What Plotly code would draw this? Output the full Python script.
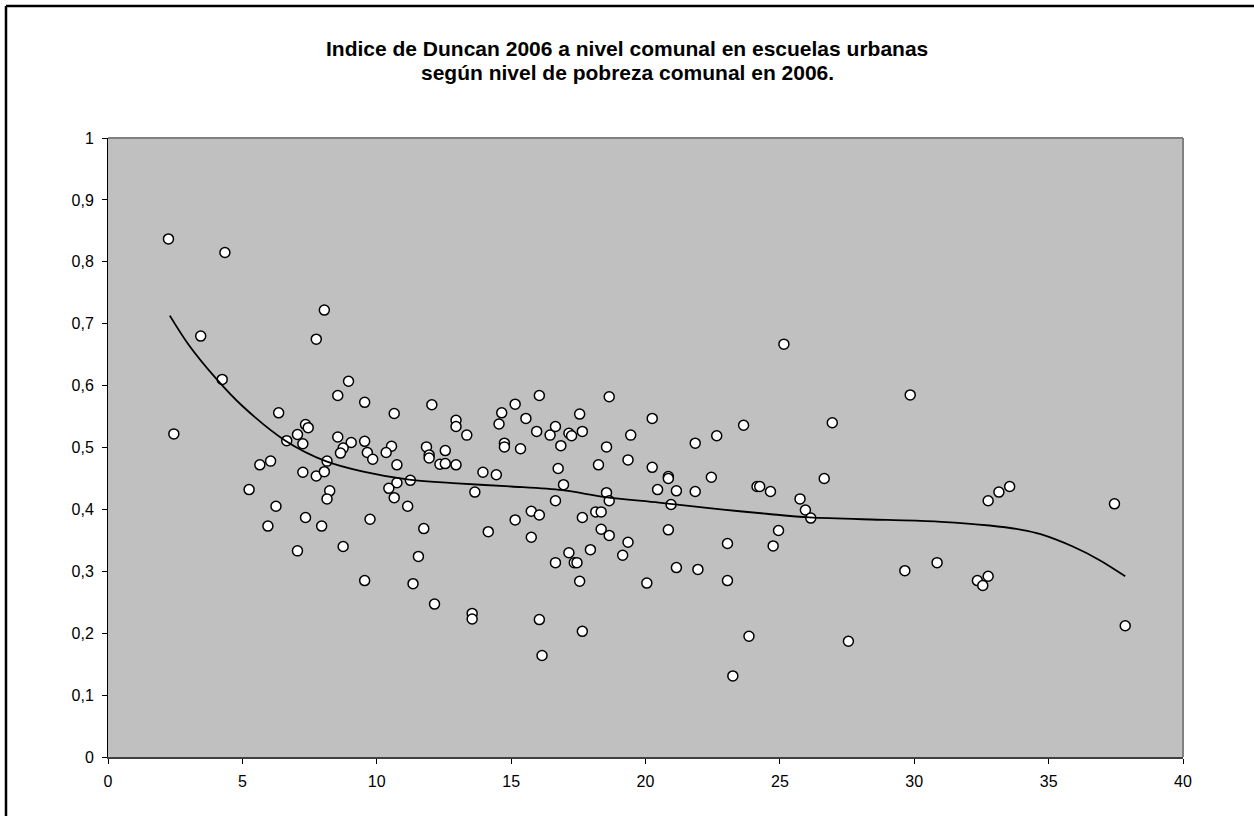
import plotly.graph_objects as go

# ---- data ----
pobreza = [
    2.25, 4.35, 3.45, 8.05, 7.75, 4.25, 8.95, 8.55, 9.55, 10.65,
    6.35, 2.45, 7.35, 7.45, 7.05, 6.65, 7.25, 8.55, 9.05, 9.55,
    10.55, 8.75, 8.65, 9.65, 9.85, 10.35, 10.75, 10.75, 10.45, 10.65,
    11.15, 11.25, 5.65, 6.05, 7.25, 7.75, 8.05, 8.15, 8.25, 8.15,
    5.25, 6.25, 5.95, 7.35, 7.95, 9.75, 7.05, 8.75, 9.55, 11.35,
    11.55, 11.75, 12.05, 12.95, 12.95, 13.35, 11.85, 11.95, 11.95, 12.55,
    12.35, 12.55, 12.95, 12.15, 13.55, 13.55, 14.65, 14.55, 15.15, 15.55,
    16.05, 15.95, 16.45, 16.65, 17.15, 17.25, 17.65, 17.55, 16.85, 18.65,
    20.25, 19.45, 18.55, 18.25, 19.35, 20.25, 21.85, 22.65, 22.45, 14.75,
    14.75, 15.35, 13.95, 14.45, 13.65, 16.75, 16.95, 16.65, 18.55, 18.65,
    20.85, 20.85, 20.45, 21.15, 21.85, 20.95, 17.65, 18.15, 18.35, 15.75,
    16.05, 15.15, 14.15, 15.75, 18.35, 18.65, 20.85, 19.35, 17.95, 19.15,
    17.15, 17.35, 17.45, 16.65, 17.55, 20.05, 21.15, 21.95, 16.05, 17.65,
    16.15, 25.15, 29.85, 26.95, 23.65, 24.15, 24.25, 24.65, 26.65, 25.75,
    25.95, 26.15, 24.95, 23.05, 24.75, 23.05, 23.85, 23.25, 27.55, 29.65,
    30.85, 32.35, 32.55, 32.75, 32.75, 33.15, 33.55, 37.45, 37.85,
]
duncan = [
    0.837, 0.815, 0.680, 0.722, 0.675, 0.610, 0.607, 0.584, 0.573, 0.555,
    0.556, 0.522, 0.537, 0.532, 0.521, 0.511, 0.506, 0.517, 0.508, 0.510,
    0.502, 0.499, 0.491, 0.492, 0.481, 0.492, 0.472, 0.443, 0.434, 0.419,
    0.405, 0.447, 0.472, 0.478, 0.460, 0.454, 0.461, 0.478, 0.430, 0.417,
    0.432, 0.405, 0.373, 0.387, 0.373, 0.384, 0.333, 0.340, 0.285, 0.280,
    0.324, 0.369, 0.569, 0.544, 0.534, 0.520, 0.501, 0.488, 0.483, 0.495,
    0.473, 0.474, 0.472, 0.247, 0.232, 0.223, 0.556, 0.538, 0.570, 0.547,
    0.584, 0.526, 0.520, 0.534, 0.523, 0.519, 0.526, 0.554, 0.503, 0.582,
    0.547, 0.520, 0.501, 0.472, 0.480, 0.468, 0.507, 0.519, 0.452, 0.507,
    0.501, 0.498, 0.460, 0.456, 0.428, 0.466, 0.440, 0.414, 0.427, 0.414,
    0.453, 0.450, 0.432, 0.430, 0.429, 0.408, 0.387, 0.396, 0.396, 0.397,
    0.391, 0.383, 0.364, 0.355, 0.368, 0.358, 0.367, 0.347, 0.335, 0.326,
    0.330, 0.314, 0.314, 0.314, 0.284, 0.281, 0.306, 0.303, 0.222, 0.203,
    0.164, 0.667, 0.585, 0.540, 0.536, 0.437, 0.437, 0.429, 0.450, 0.417,
    0.399, 0.386, 0.366, 0.345, 0.341, 0.285, 0.195, 0.131, 0.187, 0.301,
    0.314, 0.285, 0.277, 0.292, 0.414, 0.428, 0.437, 0.409, 0.212,
]

# trend curve (polynomial trendline)
trend_x = [2.3, 3.0, 4.05, 5.0, 6.6, 8.1, 9.5, 11.2, 13.0, 15.0, 16.9, 18.5,
           20.5, 22.8, 24.5, 26.1, 29.0, 31.0, 32.8, 34.0, 34.7, 35.9, 36.9, 37.85]
trend_y = [0.713, 0.666, 0.610, 0.567, 0.511, 0.478, 0.461, 0.448, 0.442, 0.437,
           0.431, 0.420, 0.411, 0.400, 0.393, 0.387, 0.383, 0.380, 0.374, 0.367,
           0.360, 0.340, 0.318, 0.292]

x_ticks = [0, 5, 10, 15, 20, 25, 30, 35, 40]
y_ticks = [0, 0.1, 0.2, 0.3, 0.4, 0.5, 0.6, 0.7, 0.8, 0.9, 1]
y_tick_labels = ["0", "0,1", "0,2", "0,3", "0,4", "0,5", "0,6", "0,7", "0,8", "0,9", "1"]
title_lines = ["Indice de Duncan 2006 a nivel comunal en escuelas urbanas",
               "según nivel de pobreza comunal en 2006."]

FONT = "Liberation Sans, Arial, sans-serif"
W, H = 1254, 816
ML, MR, MT, MB = 108, 71, 138, 59
PW, PH = W - ML - MR, H - MT - MB


def px_x(p):
    return (p - ML) / PW


def px_y(p):
    return (H - MB - p) / PH


fig = go.Figure()
fig.add_trace(go.Scatter(
    x=pobreza, y=duncan, mode="markers",
    marker=dict(size=10, color="white", line=dict(color="black", width=1.5)),
    showlegend=False, hoverinfo="x+y",
))
fig.add_trace(go.Scatter(
    x=trend_x, y=trend_y, mode="lines",
    line=dict(color="black", width=1.8, shape="spline", smoothing=0.9),
    showlegend=False, hoverinfo="skip",
))

shapes = [
    # plot-area border (top and right, gray)
    dict(type="line", xref="paper", yref="paper", x0=0, x1=1, y0=1, y1=1,
         line=dict(color="#808080", width=2)),
    dict(type="line", xref="paper", yref="paper", x0=1, x1=1, y0=0, y1=1,
         line=dict(color="#808080", width=2)),
    # outer chart frame (top and left visible)
    dict(type="line", xref="paper", yref="paper", x0=px_x(6), x1=px_x(1300),
         y0=px_y(6), y1=px_y(6), line=dict(color="black", width=2.5)),
    dict(type="line", xref="paper", yref="paper", x0=px_x(6), x1=px_x(6),
         y0=px_y(6), y1=px_y(900), line=dict(color="black", width=2.5)),
]

annotations = [
    dict(text="<b>" + title_lines[0] + "</b>", xref="paper", yref="paper",
         x=px_x(627), y=px_y(48), xanchor="center", yanchor="middle",
         showarrow=False, font=dict(family=FONT, size=21, color="black")),
    dict(text="<b>" + title_lines[1] + "</b>", xref="paper", yref="paper",
         x=px_x(627), y=px_y(72), xanchor="center", yanchor="middle",
         showarrow=False, font=dict(family=FONT, size=21, color="black")),
]

fig.update_layout(
    width=W, height=H,
    margin=dict(l=ML, r=MR, t=MT, b=MB, autoexpand=False),
    paper_bgcolor="white", plot_bgcolor="#C0C0C0",
    font=dict(family=FONT, color="black", size=16),
    xaxis=dict(range=[0, 40], tickvals=x_ticks, ticks="outside", ticklen=5,
               tickcolor="black", tickwidth=1, showline=True, linecolor="#404040",
               linewidth=2, showgrid=False, zeroline=False, ticklabelstandoff=4,
               tickfont=dict(family=FONT, size=16, color="black")),
    yaxis=dict(range=[0, 1], tickvals=y_ticks, ticktext=y_tick_labels,
               ticks="outside", ticklen=5, tickcolor="black", tickwidth=1,
               showline=True, linecolor="black", linewidth=1, showgrid=False,
               zeroline=False, ticklabelstandoff=5,
               tickfont=dict(family=FONT, size=16, color="black")),
    shapes=shapes,
    annotations=annotations,
)

fig.write_html("out.html",
               config={"displayModeBar": False},
               post_script="document.body.style.margin='0px';"
                           "document.body.style.overflow='hidden';")
